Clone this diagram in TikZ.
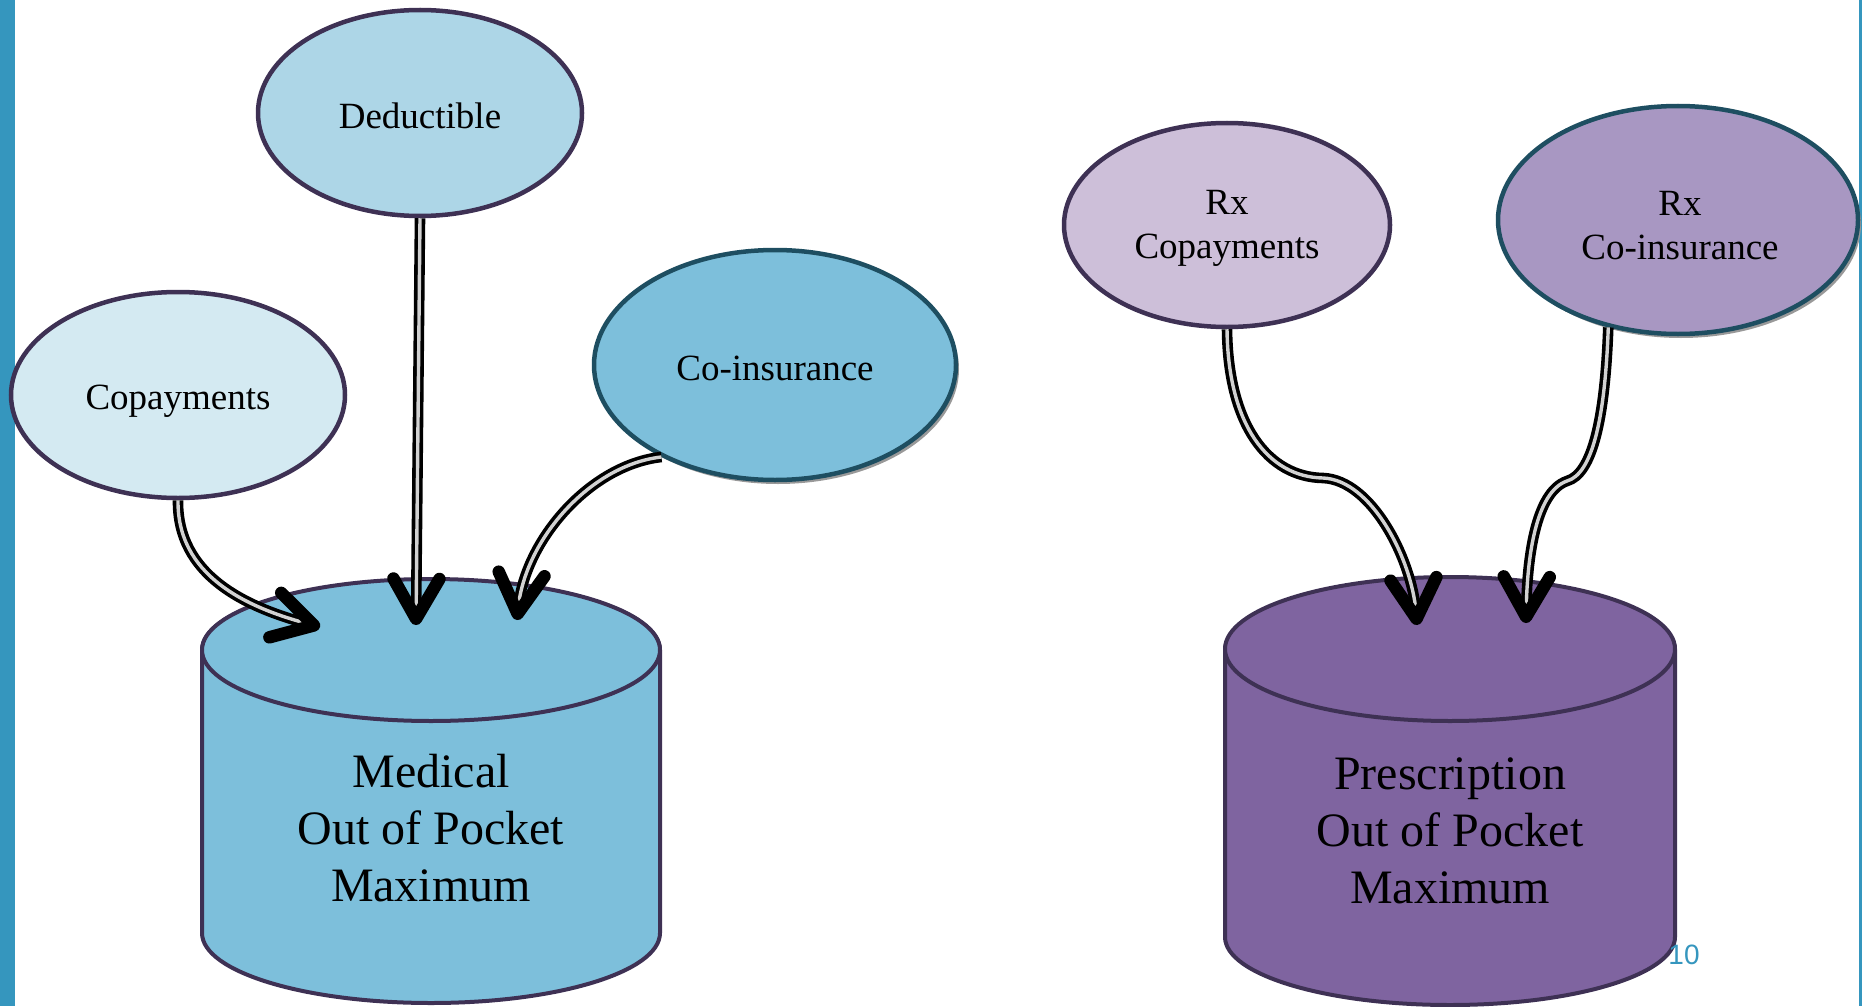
\documentclass[tikz,border=0pt]{standalone}
\usepackage{fontspec}
\setmainfont{Liberation Serif}
\newfontfamily\numfont{Liberation Sans}
\usetikzlibrary{arrows.meta,shapes.geometric,shadows}
\definecolor{barblue}{HTML}{3596BE}
\definecolor{edgepurple}{HTML}{3E3154}
\definecolor{edgeteal}{HTML}{1E4E61}
\definecolor{dedfill}{HTML}{ADD6E7}
\definecolor{copfill}{HTML}{D4EAF2}
\definecolor{coifill}{HTML}{7DBFDB}
\definecolor{rxcopfill}{HTML}{CDBFD9}
\definecolor{rxcoifill}{HTML}{A897C2}
\definecolor{presfill}{HTML}{7F64A0}
\definecolor{linkgray}{HTML}{D2D2D2}
\begin{document}
\begin{tikzpicture}[x=1pt,y=-1pt,
  oval/.style={ellipse, draw=edgepurple, line width=4.5pt, inner sep=0pt},
  tealoval/.style={oval, draw=edgeteal,
    drop shadow={shadow xshift=3pt, shadow yshift=-4pt, fill=black!40, opacity=1}},
  ovaltext/.style={font=\fontsize{37}{44}\selectfont, align=center, inner sep=0pt},
  cylbody/.style={draw=edgepurple, line width=4pt, line join=round},
  cyltext/.style={font=\fontsize{48}{57}\selectfont, align=center, inner sep=0pt},
  link/.style={draw=black, double=linkgray, line width=3.6pt, double distance=3.4pt,
    -{Straight Barb[length=40pt,width=46pt,line width=12.5pt,round]}}
]
\useasboundingbox (0,0) rectangle (1862,1006);
\fill[barblue] (0,0) rectangle (15,1006);
\fill[barblue] (1859,0) rectangle (1862,1006);

% ellipses
\node[oval, fill=dedfill, minimum width=324pt, minimum height=206pt] (ded) at (420,113) {};
\node[ovaltext] (dedtext) at (420,116) {Deductible};
\node[oval, fill=copfill, minimum width=334pt, minimum height=206pt] (cop) at (178,395) {};
\node[ovaltext] (coptext) at (178,401) {Copayments};
\node[tealoval, fill=coifill, minimum width=362pt, minimum height=230pt] (coi) at (775,365) {};
\node[ovaltext] (coitext) at (775,368) {Co-insurance};
\node[oval, fill=rxcopfill, minimum width=326pt, minimum height=204pt] (rxcop) at (1227,225) {};
\node[ovaltext] (rxcoptext) at (1227,228) {Rx\\Copayments};
\node[tealoval, fill=rxcoifill, minimum width=360pt, minimum height=228pt] (rxcoi) at (1678,220) {};
\node[ovaltext] (rxcoitext) at (1680,226) {Rx\\Co-insurance};

% medical cylinder
\filldraw[cylbody, fill=coifill] (202,650) -- (202,933)
  arc[start angle=180, end angle=0, x radius=229, y radius=70] -- (660,650)
  arc[start angle=360, end angle=180, x radius=229, y radius=70] -- cycle;
\filldraw[cylbody, fill=coifill] (431,650) ellipse [x radius=229, y radius=71];
\node[cyltext] (med) at (431,828) {Medical\\Out of Pocket\\Maximum};

% prescription cylinder
\filldraw[cylbody, fill=presfill] (1225,650) -- (1225,937)
  arc[start angle=180, end angle=0, x radius=225, y radius=68] -- (1675,650)
  arc[start angle=360, end angle=180, x radius=225, y radius=68] -- cycle;
\filldraw[cylbody, fill=presfill] (1450,649) ellipse [x radius=225, y radius=72];
\node[cyltext] (pres) at (1450,831) {Prescription\\Out of Pocket\\Maximum};

\node[font=\numfont\fontsize{28}{30}\selectfont, text=barblue, inner sep=0pt] (pnum) at (1684,955) {10};

% arrow targets
\coordinate (medin1) at (320,627);
\coordinate (medin2) at (416,625);
\coordinate (medin3) at (517,620);
\coordinate (presin1) at (1417,625);
\coordinate (presin2) at (1526,623);

% connectors
\draw[link] (cop.south) .. controls (177,575) and (245,607) .. (medin1);
\draw[link] (ded.south) -- (medin2);
\draw[link] (coi.219) .. controls (590,465) and (525,540) .. (medin3);
\draw[link] (rxcop.south) .. controls (1228,425) and (1268,477) .. (1323,478)
  .. controls (1372,480) and (1412,560) .. (presin1);
\draw[link] (rxcoi.237) .. controls (1605,420) and (1592,474) .. (1567,481)
  .. controls (1535,492) and (1527,560) .. (presin2);
\end{tikzpicture}
\end{document}
